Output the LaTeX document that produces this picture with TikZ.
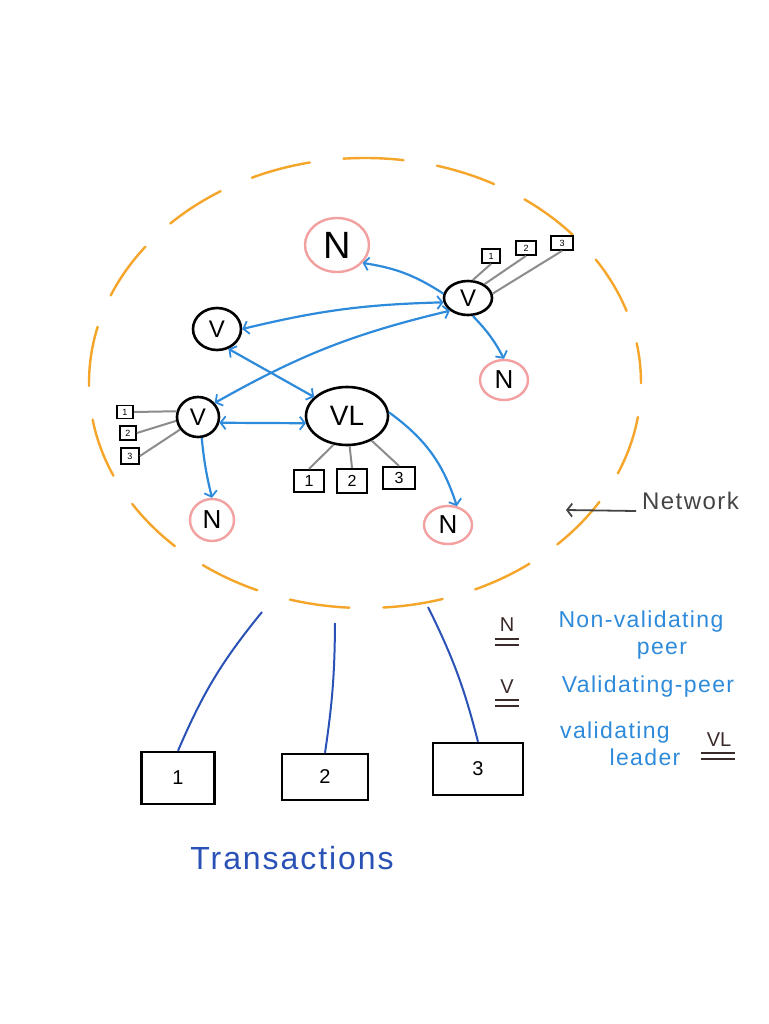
\documentclass[tikz,border=0pt]{standalone}
\usepackage{fontspec}
\setmainfont{Liberation Sans}
\newfontfamily\hand[LetterSpace=6]{Liberation Sans}
\usetikzlibrary{arrows.meta,shapes.geometric,calc}
\definecolor{netorange}{HTML}{F5A52A}
\definecolor{arrowblue}{HTML}{2E8BDB}
\definecolor{peerpink}{HTML}{F2A0A0}
\definecolor{linkgray}{HTML}{8C8C8C}
\definecolor{txblue}{HTML}{2A52B6}
\definecolor{inkbrown}{HTML}{3B2A2A}
\definecolor{netgray}{HTML}{444444}
\tikzset{
  barbtip/.tip={Straight Barb[length=5pt,width=13pt,line width=1.8pt]},
  nonval/.style={ellipse, draw=peerpink, line width=2.4pt, inner sep=0pt, font=\fontsize{26}{26}\selectfont},
  valpeer/.style={ellipse, draw=black, line width=2.6pt, inner sep=0pt, font=\fontsize{24}{24}\selectfont},
  smallbox/.style={draw=black, line width=1.8pt, inner sep=0pt, font=\fontsize{9}{9}\selectfont},
  midbox/.style={draw=black, line width=2.2pt, inner sep=0pt, font=\fontsize{16}{16}\selectfont},
  txbox/.style={draw=black, line width=2.4pt, inner sep=0pt, font=\fontsize{20}{20}\selectfont},
  blink/.style={draw=arrowblue, line width=2.2pt},
  oneway/.style={blink, -barbtip},
  twoway/.style={blink, barbtip-barbtip},
  glink/.style={draw=linkgray, line width=2pt},
  txlink/.style={draw=txblue, line width=2pt},
  legtext/.style={text=arrowblue, font=\hand\fontsize{23}{23}\selectfont, inner sep=0pt},
  legsym/.style={text=inkbrown, font=\fontsize{20}{20}\selectfont, inner sep=0pt},
  uline/.style={draw=inkbrown, line width=2.2pt}
}
\begin{document}
\begin{tikzpicture}[x=1pt,y=-1pt]
\useasboundingbox (0,0) rectangle (768,1024);
\fill[white] (0,0) rectangle (768,1024);

% network boundary
\draw[netorange, line width=2.4pt, line cap=round, dash pattern=on 60pt off 34pt, dash phase=20pt]
  (365,383) ellipse [x radius=276pt, y radius=225pt];

% peers
\node[nonval, minimum width=64pt, minimum height=54pt, font=\fontsize{38}{38}\selectfont] (N1) at (337,245) {N};
\node[valpeer, minimum width=48pt, minimum height=34pt] (V1) at (468,298) {V};
\node[nonval, minimum width=48pt, minimum height=40pt] (N2) at (504,380) {N};
\node[valpeer, minimum width=48pt, minimum height=42pt] (V2) at (217,329) {V};
\node[valpeer, minimum width=42pt, minimum height=40pt] (V3) at (198,417) {V};
\node[valpeer, minimum width=82pt, minimum height=58pt, font=\fontsize{28}{28}\selectfont] (VL) at (347,416) {VL};
\node[nonval, minimum width=44pt, minimum height=42pt] (N3) at (212,520) {N};
\node[nonval, minimum width=48pt, minimum height=38pt] (N4) at (448,525) {N};

% ledgers of V1
\node[smallbox, minimum width=18pt, minimum height=14pt] (b11) at (491,256) {1};
\node[smallbox, minimum width=20pt, minimum height=14pt] (b12) at (526,248) {2};
\node[smallbox, minimum width=22pt, minimum height=14pt] (b13) at (562,243) {3};
\draw[glink] (V1.75) -- (b11.south);
\draw[glink] (V1.40) -- (b12.south);
\draw[glink] (V1.10) -- (b13.south);

% ledgers of V3
\node[smallbox, minimum width=16pt, minimum height=13pt] (b21) at (125,412) {1};
\node[smallbox, minimum width=16pt, minimum height=14pt] (b22) at (128,433) {2};
\node[smallbox, minimum width=18pt, minimum height=16pt] (b23) at (130,456) {3};
\draw[glink] (V3.165) -- (b21.east);
\draw[glink] (V3.190) -- (b22.east);
\draw[glink] (V3.215) -- (b23.east);

% ledgers of VL
\node[midbox, minimum width=30pt, minimum height=22pt] (b31) at (309,481) {1};
\node[midbox, minimum width=30pt, minimum height=24pt] (b32) at (352,481) {2};
\node[midbox, minimum width=32pt, minimum height=22pt] (b33) at (399,478) {3};
\draw[glink] (VL.245) -- (b31.north);
\draw[glink] (VL.275) -- (b32.north);
\draw[glink] (VL.315) -- (b33.north);

% communication
\draw[oneway] (V1.170) to[bend right=12] (N1.-35);
\draw[twoway] (V2.east) to[bend left=6] (V1.190);
\draw[twoway] (V3.40) to[bend left=8] (V1.215);
\draw[twoway] (V2.-60) -- (VL.150);
\draw[twoway] (V3.-15) -- (VL.190);
\draw[oneway] (V1.-75) to[bend left=8] (N2.north);
\draw[oneway] (V3.-80) to[bend right=4] (N3.north);
\draw[oneway] (VL.5) to[bend left=18] (N4.65);

% network label
\node[text=netgray, font=\hand\fontsize{24}{24}\selectfont, anchor=west, inner sep=0pt] (net) at (642,501) {Network};
\coordinate (netpt) at (566,510);
\draw[netgray, line width=1.8pt, -{Straight Barb[length=5pt,width=13pt,line width=1.8pt]}] ($(net.west)+(-6,10)$) -- (netpt);

% transactions
\node[txbox, minimum width=73pt, minimum height=52pt] (T1) at (178,778) {1};
\node[txbox, minimum width=86pt, minimum height=46pt] (T2) at (325,777) {2};
\node[txbox, minimum width=90pt, minimum height=52pt] (T3) at (478,769) {3};
\coordinate (e1) at (262,612);
\coordinate (e2) at (335,623);
\coordinate (e3) at (428,607);
\draw[txlink] (e1) to[bend right=8] (T1.north);
\draw[txlink] (e2) to[bend left=4] (T2.north);
\draw[txlink] (e3) to[bend left=6] (T3.north);
\node[text=txblue, font=\hand\fontsize{32}{32}\selectfont, inner sep=0pt] (tx) at (292,858) {Transactions};

% legend
\node[legsym] (LN) at (507,625) {N};
\draw[uline] ([xshift=-5pt,yshift=-7pt]LN.south west) -- ([xshift=5pt,yshift=-7pt]LN.south east);
\draw[uline] ([xshift=-5pt,yshift=-13pt]LN.south west) -- ([xshift=5pt,yshift=-13pt]LN.south east);
\node[legtext] (LNt) at (641,622) {Non-validating};
\node[legtext, anchor=north] (LNp) at (662,642) {peer};

\node[legsym] (LV) at (507,687) {V};
\draw[uline] ([xshift=-5pt,yshift=-6pt]LV.south west) -- ([xshift=5pt,yshift=-6pt]LV.south east);
\draw[uline] ([xshift=-5pt,yshift=-12pt]LV.south west) -- ([xshift=5pt,yshift=-12pt]LV.south east);
\node[legtext] (LVt) at (648,687) {Validating-peer};

\node[legsym] (LVL) at (719,740) {VL};
\draw[uline] ([xshift=-6pt,yshift=-6pt]LVL.south west) -- ([xshift=4pt,yshift=-6pt]LVL.south east);
\draw[uline] ([xshift=-6pt,yshift=-12pt]LVL.south west) -- ([xshift=4pt,yshift=-12pt]LVL.south east);
\node[legtext] (LVLt) at (615,733) {validating};
\node[legtext, anchor=north] (LVLl) at (645,749) {leader};
\end{tikzpicture}
\end{document}
